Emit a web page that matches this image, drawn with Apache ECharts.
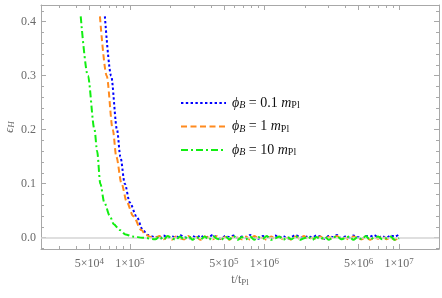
<!DOCTYPE html>
<html><head><meta charset="utf-8">
<script src="https://cdn.jsdelivr.net/npm/echarts@6/dist/echarts.min.js"></script>
<style>html,body{margin:0;padding:0;background:#fff}#c{width:442px;height:298px}</style>
</head><body><div id="c"></div>
<script>
// ---- data ----
const seriesNames = ['0.1', '1', '10'];
const seriesColors = ['#0000ff', '#ff8a1e', '#11ee11'];

const tBlue   = [6.53e4, 7.26e4, 8.04e4, 8.51e4, 9.18e4, 1.0e5, 1.12e5, 1.25e5, 1.36e5, 1.53e5];
const epsBlue = [0.41, 0.30, 0.20, 0.15, 0.10, 0.065, 0.040, 0.014, 0.005, 0.001];

const tOrange   = [6.0e4, 6.73e4, 7.48e4, 7.94e4, 8.69e4, 9.5e4, 1.06e5, 1.22e5, 1.31e5, 1.45e5];
const epsOrange = [0.41, 0.30, 0.20, 0.15, 0.10, 0.066, 0.040, 0.014, 0.005, 0.001];

const tGreen   = [4.32e4, 4.88e4, 5.47e4, 5.72e4, 6.04e4, 6.47e4, 7.11e4, 7.6e4, 8.43e4, 9.3e4, 1.05e5, 1.25e5];
const epsGreen = [0.41, 0.30, 0.20, 0.16, 0.10, 0.065, 0.040, 0.025, 0.014, 0.006, 0.002, 0.000];

const noiseT = [1.55e5, 1.66e5, 1.78e5, 1.91e5, 2.05e5, 2.2e5, 2.36e5, 2.53e5, 2.72e5, 2.92e5,
                3.13e5, 3.36e5, 3.6e5, 3.87e5, 4.15e5, 4.45e5, 4.78e5, 5.13e5, 5.5e5, 5.9e5,
                6.33e5, 6.8e5, 7.3e5, 7.83e5, 8.4e5, 9.0e5, 9.7e5, 1.04e6, 1.12e6, 1.2e6,
                1.29e6, 1.38e6, 1.48e6, 1.59e6, 1.71e6, 1.83e6, 1.97e6, 2.11e6, 2.27e6, 2.43e6,
                2.61e6, 2.8e6, 3.0e6, 3.22e6, 3.46e6, 3.71e6, 3.98e6, 4.27e6, 4.58e6, 4.92e6,
                5.28e6, 5.66e6, 6.08e6, 6.52e6, 7.0e6, 7.5e6, 8.05e6, 8.65e6, 9.3e6, 1.0e7];
const noiseBlue = [0.002, -0.002, 0.004, 0.000, 0.003, -0.001, 0.005, 0.001, -0.002, 0.003,
                   0.000, 0.004, -0.001, 0.002, 0.005, 0.000, -0.002, 0.003, 0.001, 0.004,
                   -0.001, 0.002, 0.000, 0.005, 0.001, -0.002, 0.003, 0.002, -0.001, 0.004,
                   0.000, 0.003, -0.002, 0.002, 0.005, 0.001, -0.001, 0.003, 0.000, 0.004,
                   0.002, -0.002, 0.003, 0.001, 0.005, -0.001, 0.002, 0.000, 0.004, 0.001,
                   -0.002, 0.003, 0.002, 0.005, 0.000, 0.003, -0.001, 0.004, 0.002, 0.006];
const noiseOrange = [0.000, 0.003, -0.003, 0.001, -0.004, 0.002, -0.001, -0.003, 0.003, -0.002,
                     0.001, -0.004, 0.002, 0.000, -0.003, 0.003, -0.002, 0.001, -0.004, 0.002,
                     0.000, -0.003, 0.002, -0.004, 0.003, -0.001, 0.000, -0.004, 0.002, -0.002,
                     0.001, -0.003, 0.000, -0.004, 0.002, -0.002, 0.003, -0.003, 0.000, -0.002,
                     0.002, -0.004, 0.001, -0.002, 0.003, -0.003, 0.000, -0.004, 0.002, -0.001,
                     -0.003, 0.002, -0.004, 0.001, -0.002, 0.003, -0.003, 0.000, -0.004, 0.001];
const noiseGreen = [-0.003, 0.002, -0.004, 0.003, -0.001, -0.004, 0.002, -0.003, 0.003, -0.004,
                    0.001, -0.003, 0.002, -0.004, 0.003, -0.002, -0.004, 0.002, -0.003, 0.003,
                    -0.004, 0.001, -0.003, 0.002, -0.004, 0.001, -0.002, 0.003, -0.004, -0.001,
                    0.002, -0.004, 0.001, -0.003, 0.003, -0.004, -0.001, 0.002, -0.004, 0.001,
                    -0.003, 0.002, -0.004, 0.000, 0.003, -0.003, -0.001, 0.002, -0.004, 0.001,
                    -0.003, 0.003, -0.004, 0.000, 0.002, -0.003, -0.001, 0.002, -0.004, -0.001];

const xMin = 2.19e4, xMax = 1.98e7;
const yMin = -0.021, yMax = 0.431;
const xMajorTicks = [5e4, 1e5, 5e5, 1e6, 5e6, 1e7];
const xMinorTicks = [3e4, 4e4, 6e4, 7e4, 8e4, 9e4, 2e5, 3e5, 4e5, 6e5, 7e5, 8e5, 9e5, 2e6, 3e6, 4e6, 6e6, 7e6, 8e6, 9e6];
const yMajorTicks = [0, 0.1, 0.2, 0.3, 0.4];
const yMinorTicks = [-0.02, 0.02, 0.04, 0.06, 0.08, 0.12, 0.14, 0.16, 0.18, 0.22, 0.24, 0.26, 0.28, 0.32, 0.34, 0.36, 0.38, 0.42];

// ---- build ----
function pairs(ts, ys) { return ts.map((t, i) => [t, ys[i]]); }
const dataSets = [
  pairs(tBlue, epsBlue).concat(pairs(noiseT, noiseBlue)),
  pairs(tOrange, epsOrange).concat(pairs(noiseT, noiseOrange)),
  pairs(tGreen, epsGreen).concat(pairs(noiseT, noiseGreen))
];
const dashes = [[2.4, 2.4], [6, 3.5], [7, 3, 2, 3]];

const FONT = 'Liberation Serif';
const frame = '#a8a8a8';
const labelColor = '#6a6a6a';

function fmtX(v) {
  const e = Math.floor(Math.log10(v) + 1e-9);
  const m = Math.round(v / Math.pow(10, e));
  return m + '×10{s|' + e + '}';
}

function xAxisDef(pos, ticks, len, showLine, showLabel) {
  return {
    type: 'log', logBase: 10, min: xMin, max: xMax, position: pos,
    axisLine: { show: showLine, onZero: false, lineStyle: { color: frame, width: 1 } },
    axisTick: { show: true, inside: true, length: len, customValues: ticks, lineStyle: { color: frame, width: 1 } },
    minorTick: { show: false },
    splitLine: { show: false },
    axisLabel: showLabel ? {
      show: true, customValues: ticks, formatter: fmtX, margin: 8,
      fontFamily: FONT, fontSize: 12, color: labelColor,
      rich: { s: { fontFamily: FONT, fontSize: 9, color: labelColor, verticalAlign: 'top', padding: [0, 0, 4, 0] } }
    } : { show: false },
    name: showLabel ? 't/t{sub|Pl}' : '',
    nameLocation: 'middle', nameGap: 24, nameMoveOverlap: false,
    nameTextStyle: { fontFamily: FONT, fontSize: 12, color: labelColor,
      rich: { sub: { fontFamily: FONT, fontSize: 9, color: labelColor, verticalAlign: 'bottom', padding: [5, 0, 0, 0] } } }
  };
}
function yAxisDef(pos, ticks, len, showLine, showLabel) {
  return {
    type: 'value', min: yMin, max: yMax, position: pos,
    axisLine: { show: showLine, onZero: false, lineStyle: { color: frame, width: 1 } },
    axisTick: { show: true, inside: true, length: len, customValues: ticks, lineStyle: { color: frame, width: 1 } },
    splitLine: { show: false },
    axisLabel: showLabel ? {
      show: true, customValues: ticks, formatter: v => v.toFixed(1), margin: 5,
      fontFamily: FONT, fontSize: 12, color: labelColor
    } : { show: false },
    name: showLabel ? '{i|ϵ}{sub|H}' : '',
    nameLocation: 'middle', nameGap: 25, nameRotate: 90, nameMoveOverlap: false,
    nameTextStyle: { fontFamily: FONT, fontSize: 12, color: labelColor,
      rich: {
        i: { fontFamily: FONT, fontSize: 12, fontStyle: 'italic', color: labelColor },
        sub: { fontFamily: FONT, fontSize: 9, fontStyle: 'italic', color: labelColor, verticalAlign: 'bottom', padding: [4, 0, 0, 0] }
      } }
  };
}

const series = seriesNames.map((n, i) => ({
  name: n, type: 'line', xAxisIndex: 0, yAxisIndex: 0,
  data: dataSets[i], showSymbol: false, symbol: 'none',
  smooth: 0.3, smoothMonotone: 'x',
  lineStyle: { color: seriesColors[i], width: 2, type: dashes[i] },
  itemStyle: { color: seriesColors[i] },
  z: 3 + i
}));
series.unshift({
  name: 'zero', type: 'line', data: [], xAxisIndex: 0, yAxisIndex: 0, z: 1,
  markLine: { silent: true, symbol: 'none', animation: false, label: { show: false },
    lineStyle: { color: '#d4d4d4', width: 1.5, type: 'solid' }, data: [{ yAxis: 0 }] }
});

const chart = echarts.init(document.getElementById('c'), null, { renderer: 'canvas' });
chart.setOption({
  animation: false,
  backgroundColor: '#fff',
  grid: { left: 41, right: 3, top: 5, bottom: 49, containLabel: false, outerBoundsMode: 'none' },
  xAxis: [
    xAxisDef('bottom', xMajorTicks, 5, true, true),
    xAxisDef('bottom', xMinorTicks, 3, false, false),
    xAxisDef('top', xMajorTicks, 5, true, false),
    xAxisDef('top', xMinorTicks, 3, false, false)
  ],
  yAxis: [
    yAxisDef('left', yMajorTicks, 5, true, true),
    yAxisDef('left', yMinorTicks, 3, false, false),
    yAxisDef('right', yMajorTicks, 5, true, false),
    yAxisDef('right', yMinorTicks, 3, false, false)
  ],
  legend: {
    data: seriesNames, orient: 'vertical', left: 175, top: 91,
    itemWidth: 45, itemHeight: 14, itemGap: 9,
    itemStyle: { opacity: 0 },
    formatter: n => '{i|ϕ}{sbi|B} = ' + n + ' {i|m}{sb|Pl}',
    textStyle: { fontFamily: FONT, fontSize: 14, color: '#111', padding: [0, 0, 0, 1],
      rich: {
        i: { fontFamily: FONT, fontSize: 14, fontStyle: 'italic', color: '#111' },
        sbi: { fontFamily: FONT, fontSize: 10, fontStyle: 'italic', color: '#111', verticalAlign: 'bottom', padding: [5, 0, 0, 0] },
        sb: { fontFamily: FONT, fontSize: 10, color: '#111', verticalAlign: 'bottom', padding: [5, 0, 0, 0] }
      } }
  },
  series: series
});
</script>
</body></html>
